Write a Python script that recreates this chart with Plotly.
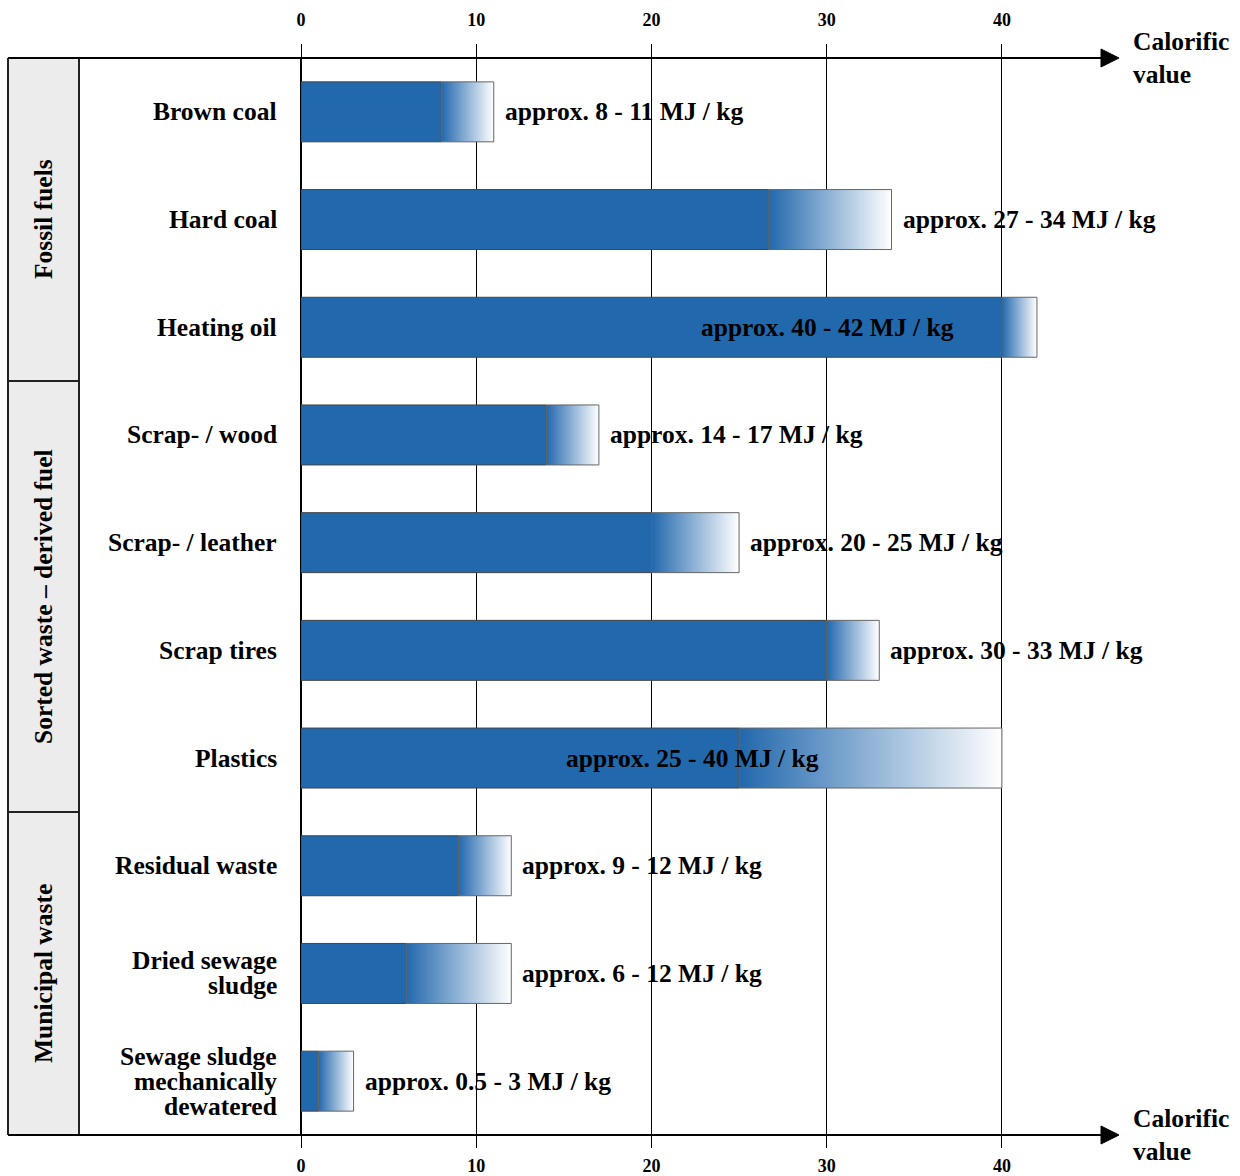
import plotly.graph_objects as go

# ---------------- data ----------------
categories = ["Brown coal", "Hard coal", "Heating oil", "Scrap- / wood", "Scrap- / leather",
              "Scrap tires", "Plastics", "Residual waste", "Dried sewage<br>sludge",
              "Sewage sludge<br>mechanically<br>dewatered"]
value_min = [8.0, 26.7, 40.0, 14.0, 20.0, 30.0, 25.0, 9.0, 6.0, 1.0]
value_max = [11.0, 33.7, 42.0, 17.0, 25.0, 33.0, 40.0, 12.0, 12.0, 3.0]
value_labels = ["approx. 8 - 11 MJ / kg", "approx. 27 - 34 MJ / kg", "approx. 40 - 42 MJ / kg",
                "approx. 14 - 17 MJ / kg", "approx. 20 - 25 MJ / kg", "approx. 30 - 33 MJ / kg",
                "approx. 25 - 40 MJ / kg", "approx. 9 - 12 MJ / kg", "approx. 6 - 12 MJ / kg",
                "approx. 0.5 - 3 MJ / kg"]
groups = ["Fossil fuels", "Sorted waste – derived fuel", "Municipal waste"]
group_sizes = [3, 4, 3]
x_ticks = [0, 10, 20, 30, 40]
axis_title = "Calorific<br>value"

# ---------------- style ----------------
FONT = "Liberation Serif"
FS = 25.5
BLUE = "#2268ad"
BAR_W = 0.557
X_RANGE = [0, 44]
L, R, T, B = 301, 168, 58, 41
W, H = 1240, 1176
PW = W - L - R
PH = H - T - B
LINE_GAP = 25  # px between lines of multi-line category labels


def px2paper_x(px):
    return (px - L) / PW


idx = list(range(len(categories)))
fig = go.Figure()

# solid part
fig.add_trace(go.Bar(
    y=idx, x=value_min, base=0, orientation="h", width=BAR_W,
    marker=dict(color=BLUE, line=dict(color="#444444", width=1)),
    hoverinfo="skip", showlegend=False))

# gradient part
h = BAR_W / 2
for i, (a, b) in enumerate(zip(value_min, value_max)):
    fig.add_trace(go.Scatter(
        x=[a, b, b, a, a], y=[i - h, i - h, i + h, i + h, i - h],
        mode="lines", fill="toself",
        fillgradient=dict(type="horizontal", colorscale=[[0, BLUE], [1, "#ffffff"]]),
        line=dict(color="#666666", width=1),
        hoverinfo="skip", showlegend=False))

# invisible trace for the top axis
fig.add_trace(go.Scatter(x=[0], y=[0], xaxis="x2", mode="markers",
                         marker=dict(opacity=0), hoverinfo="skip", showlegend=False))

tickfont = dict(family=FONT, size=18, color="black", weight="bold")
fig.update_layout(
    width=W, height=H, margin=dict(l=L, r=R, t=T, b=B, autoexpand=False),
    plot_bgcolor="white", paper_bgcolor="white", showlegend=False,
    xaxis=dict(range=X_RANGE, tickvals=x_ticks, showgrid=True, gridcolor="black", gridwidth=1,
               zeroline=True, zerolinecolor="black", zerolinewidth=2, automargin=False,
               ticks="outside", ticklen=12, tickcolor="black", tickwidth=1,
               showline=False, tickfont=tickfont, ticklabelstandoff=2),
    xaxis2=dict(range=X_RANGE, tickvals=x_ticks, overlaying="x", side="top", showgrid=False,
                zeroline=False, ticks="outside", ticklen=13, tickcolor="black", tickwidth=1,
                showline=False, tickfont=tickfont, ticklabelstandoff=11, automargin=False),
    yaxis=dict(range=[len(categories) - 0.5, -0.5], tickvals=idx, showticklabels=False,
               showgrid=False, zeroline=False, ticks="", showline=False, automargin=False),
)

cat_font = dict(family=FONT, size=FS, color="black", weight="bold")
# category labels (one annotation per line for tight line spacing)
for i, name in enumerate(categories):
    lines = name.split("<br>")
    n = len(lines)
    for k, line in enumerate(lines):
        fig.add_annotation(x=0, y=i, xref="paper", yref="y", text=line, showarrow=False,
                           xanchor="right", yanchor="middle", xshift=-22,
                           yshift=-(k - (n - 1) / 2) * LINE_GAP, font=cat_font)

shapes = []
# left group boxes
x_left = px2paper_x(8)
x_mid = px2paper_x(79)
start = -0.5
for g, n in zip(groups, group_sizes):
    end = start + n
    shapes.append(dict(type="rect", xref="paper", yref="y", x0=x_left, x1=x_mid,
                       y0=start, y1=end, fillcolor="#ececec",
                       line=dict(color="#222222", width=2), layer="below"))
    fig.add_annotation(x=(x_left + x_mid) / 2, y=(start + end) / 2, xref="paper", yref="y",
                       text=g, textangle=-90, showarrow=False, xanchor="center",
                       yanchor="middle", font=cat_font)
    start = end

# top and bottom axis lines with arrows
x_line_end = px2paper_x(1104)
x_tip = px2paper_x(1119)
ah = 9 / PH
for yv in (0, 1):
    shapes.append(dict(type="line", xref="paper", yref="paper", x0=x_left, x1=x_line_end,
                       y0=yv, y1=yv, line=dict(color="black", width=2)))
    shapes.append(dict(type="path", xref="paper", yref="paper",
                       path=f"M {px2paper_x(1101)} {yv - ah} L {x_tip} {yv} L {px2paper_x(1101)} {yv + ah} Z",
                       fillcolor="black", line=dict(color="black", width=1)))
    fig.add_annotation(x=px2paper_x(1131), y=yv, xref="paper", yref="paper", text=axis_title,
                       showarrow=False, xanchor="left", yanchor="middle", align="left",
                       font=cat_font)
fig.update_layout(shapes=shapes)

# value labels
for i, txt in enumerate(value_labels):
    if i == 2:
        fig.add_annotation(x=value_min[i], y=i, text=txt, showarrow=False,
                           xanchor="right", xshift=-46, font=cat_font)
    elif i == 6:
        fig.add_annotation(x=value_min[i], y=i, text=txt, showarrow=False,
                           xanchor="center", xshift=-47, font=cat_font)
    else:
        fig.add_annotation(x=value_max[i], y=i, text=txt, showarrow=False,
                           xanchor="left", xshift=9, font=cat_font)

fig.write_html("out.html")
